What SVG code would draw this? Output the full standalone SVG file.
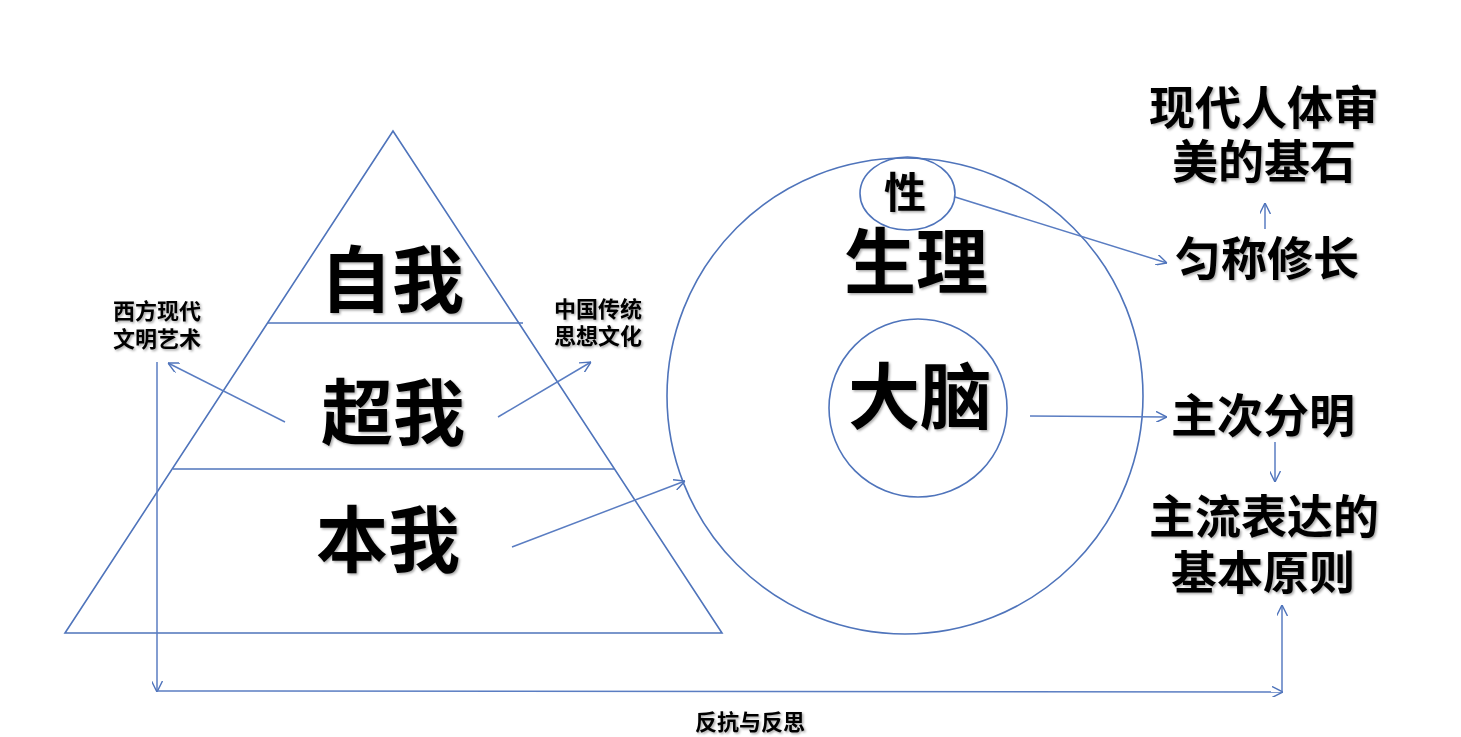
<svg xmlns="http://www.w3.org/2000/svg" width="1461" height="737" viewBox="0 0 1461 737">
<defs>
<marker id="arr" viewBox="0 0 10 10" refX="10" refY="5" markerWidth="11" markerHeight="11" markerUnits="userSpaceOnUse" orient="auto">
<path d="M0,0 L10,5 L0,10" fill="none" stroke="#4f74bb" stroke-width="1.3"/>
</marker>
<filter id="sh" x="-10%" y="-10%" width="130%" height="130%">
<feDropShadow dx="1.5" dy="1.5" stdDeviation="1" flood-color="#000" flood-opacity="0.35"/>
</filter>
</defs>
<style>
.shape{fill:none;stroke:#4f74bb;stroke-width:1.6}
.conn{fill:none;stroke:#5a7dc2;stroke-width:1.5;marker-end:url(#arr)}
text{font-family:"Noto Sans CJK SC","Noto Sans CJK TC",sans-serif;font-weight:bold;fill:#000;text-anchor:middle;filter:url(#sh)}
.big{font-size:72px}
.mid{font-size:46px}
.sm{font-size:22px}
.xs{font-size:42px}
</style>
<rect width="1461" height="737" fill="#fff"/>
<g id="pyramid">
<polygon class="shape" points="393,131 65,633 722,633"/>
<line class="shape" x1="268" y1="323" x2="523" y2="323"/>
<line class="shape" x1="173" y1="469" x2="615" y2="469"/>
</g>
<g id="ziwo"><text class="big" x="392" y="306">自我</text></g>
<g id="chaowo"><text class="big" x="393" y="439">超我</text></g>
<g id="benwo"><text class="big" x="388" y="566">本我</text></g>
<g id="xifang"><text class="sm" x="157" y="319">西方现代</text><text class="sm" x="157" y="347">文明艺术</text></g>
<g id="zhongguo"><text class="sm" x="598" y="317">中国传统</text><text class="sm" x="598" y="344">思想文化</text></g>
<g id="shengli">
<circle class="shape" cx="905" cy="396" r="238"/>
<text class="big" x="916" y="288">生理</text>
</g>
<g id="xing">
<ellipse class="shape" cx="907.5" cy="193.5" rx="47.5" ry="36.5"/>
<text class="xs" x="905" y="208">性</text>
</g>
<g id="danao">
<circle class="shape" cx="918" cy="408" r="89"/>
<text class="big" x="920" y="423">大脑</text>
</g>
<g id="shenmei"><text class="mid" x="1264" y="124">现代人体审</text><text class="mid" x="1264" y="178">美的基石</text></g>
<g id="yuncheng"><text class="mid" x="1267" y="275">匀称修长</text></g>
<g id="zhuci"><text class="mid" x="1263" y="432">主次分明</text></g>
<g id="zhuliu"><text class="mid" x="1264" y="533">主流表达的</text><text class="mid" x="1263" y="589">基本原则</text></g>
<g id="fankang"><text class="sm" x="750" y="730">反抗与反思</text></g>
<g id="connectors">
<line class="conn" x1="285" y1="422" x2="168" y2="363"/>
<line class="conn" x1="498" y1="417" x2="591" y2="362"/>
<line class="conn" x1="512" y1="547" x2="685" y2="481"/>
<line class="conn" x1="955" y1="197" x2="1167" y2="263"/>
<line class="conn" x1="1265" y1="229" x2="1265" y2="203"/>
<line class="conn" x1="1030" y1="416" x2="1167" y2="417"/>
<line class="conn" x1="1275" y1="442" x2="1275" y2="482"/>
<line class="conn" x1="157" y1="362" x2="157" y2="692"/>
<line class="conn" x1="157" y1="691" x2="1283" y2="692"/>
<line class="conn" x1="1282" y1="692" x2="1282" y2="605"/>
</g>
</svg>
